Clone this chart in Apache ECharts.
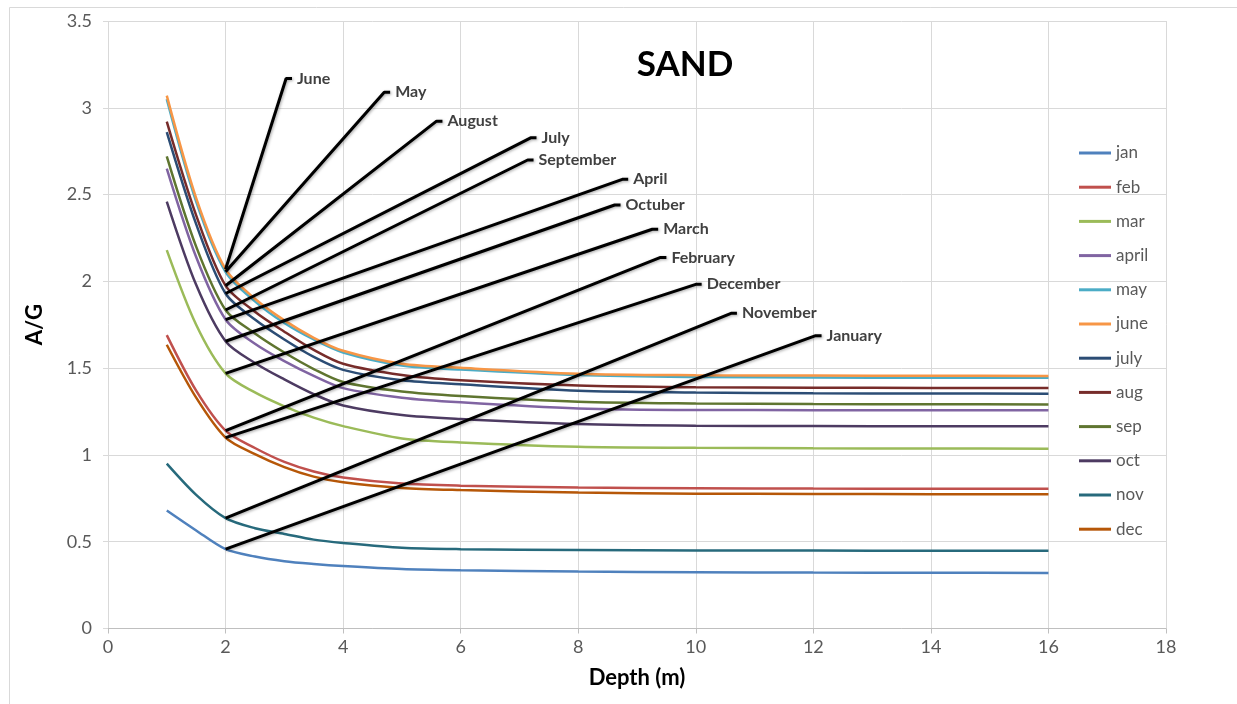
<!DOCTYPE html>
<html>
<head>
<meta charset="utf-8">
<script src="https://cdn.jsdelivr.net/npm/echarts@6/dist/echarts.min.js"></script>
<style>
  html, body { margin: 0; padding: 0; background: #ffffff; }
  #chart { width: 1237px; height: 704px; }
</style>
</head>
<body>
<div id="chart"></div>
<script>
// ---- data ----
const depth = [1, 1.5, 2, 2.5, 3, 3.5, 4, 5, 6, 8, 10, 12, 14, 16];

const jan   = [0.68, 0.565, 0.457, 0.415, 0.388, 0.372, 0.36, 0.343, 0.336, 0.328, 0.324, 0.322, 0.321, 0.32];
const feb   = [1.69, 1.37, 1.14, 1.04, 0.96, 0.905, 0.87, 0.835, 0.823, 0.812, 0.808, 0.806, 0.805, 0.805];
const mar   = [2.18, 1.75, 1.47, 1.36, 1.28, 1.215, 1.166, 1.095, 1.072, 1.047, 1.041, 1.038, 1.037, 1.036];
const april = [2.65, 2.14, 1.78, 1.64, 1.54, 1.455, 1.385, 1.33, 1.303, 1.268, 1.259, 1.258, 1.257, 1.257];
const may   = [3.05, 2.46, 2.055, 1.885, 1.76, 1.665, 1.59, 1.515, 1.492, 1.46, 1.449, 1.446, 1.445, 1.445];
const june  = [3.07, 2.48, 2.07, 1.90, 1.775, 1.675, 1.60, 1.525, 1.502, 1.468, 1.459, 1.457, 1.456, 1.455];
const july  = [2.86, 2.33, 1.93, 1.78, 1.665, 1.565, 1.49, 1.43, 1.407, 1.37, 1.36, 1.355, 1.354, 1.353];
const aug   = [2.92, 2.38, 1.975, 1.825, 1.71, 1.605, 1.525, 1.46, 1.43, 1.40, 1.39, 1.387, 1.386, 1.385];
const sep   = [2.72, 2.20, 1.835, 1.70, 1.59, 1.495, 1.42, 1.365, 1.339, 1.307, 1.297, 1.293, 1.292, 1.291];
const oct   = [2.46, 1.98, 1.655, 1.53, 1.435, 1.35, 1.285, 1.23, 1.207, 1.178, 1.168, 1.166, 1.165, 1.165];
const nov   = [0.95, 0.77, 0.636, 0.578, 0.545, 0.512, 0.493, 0.465, 0.457, 0.452, 0.45, 0.449, 0.448, 0.448];
const dec   = [1.635, 1.33, 1.10, 1.005, 0.93, 0.875, 0.842, 0.81, 0.798, 0.783, 0.777, 0.775, 0.774, 0.773];

const seriesNames = ['jan', 'feb', 'mar', 'april', 'may', 'june', 'july', 'aug', 'sep', 'oct', 'nov', 'dec'];
const seriesValues = [jan, feb, mar, april, may, june, july, aug, sep, oct, nov, dec];

// callout annotations (label text and elbow point in data units), one per series
const calloutText = ['January', 'February', 'March', 'April', 'May', 'June', 'July', 'August', 'September', 'Octuber', 'November', 'December'];
const calloutX = [12.04, 9.40, 9.26, 8.75, 4.70, 3.03, 7.19, 5.59, 7.14, 8.62, 10.60, 10.00];
const calloutY = [1.687, 2.138, 2.300, 2.588, 3.089, 3.169, 2.827, 2.923, 2.699, 2.440, 1.816, 1.983];
const calloutAnchorIndex = 2; // callouts point at depth = 2 m

const xTicks = { min: 0, max: 18, interval: 2 };
const yTicks = { min: 0, max: 3.5, interval: 0.5 };

// ---- styles ----
const colors = ['#4F81BD', '#C0504D', '#9BBB59', '#8064A2', '#4BACC6', '#F79646',
                '#2C4D75', '#772C2A', '#5F7530', '#4D3B62', '#276A7C', '#B65708'];
const FONT = 'Lato';
const tickLen = 0.1;

const series = [];
seriesNames.forEach((name, i) => {
  series.push({
    name: name,
    type: 'line',
    data: depth.map((d, k) => [d, seriesValues[i][k]]),
    smooth: 0.3,
    showSymbol: false,
    symbol: 'none',
    lineStyle: { width: 2.5, color: colors[i] },
    itemStyle: { color: colors[i] },
    z: 2,
    animation: false
  });
});
seriesNames.forEach((name, i) => {
  const ax = depth[calloutAnchorIndex];
  const ay = seriesValues[i][calloutAnchorIndex];
  series.push({
    name: calloutText[i],
    type: 'line',
    data: [[ax, ay], [calloutX[i], calloutY[i]], [calloutX[i] + tickLen, calloutY[i]]],
    showSymbol: false,
    symbol: 'none',
    lineStyle: { width: 3, color: '#000000', shadowBlur: 3, shadowColor: 'rgba(0,0,0,0.35)', shadowOffsetX: 1, shadowOffsetY: 1 },
    endLabel: {
      show: true,
      formatter: calloutText[i],
      color: '#404040',
      fontFamily: FONT,
      fontWeight: 'bold',
      fontSize: 16,
      distance: 5
    },
    z: 5,
    silent: true,
    animation: false
  });
});

const chart = echarts.init(document.getElementById('chart'), null, { renderer: 'canvas' });
chart.setOption({
  backgroundColor: '#ffffff',
  animation: false,
  color: colors,
  title: {
    text: 'SAND',
    left: 680,
    top: 42,
    textAlign: 'center',
    textStyle: { fontFamily: FONT, fontWeight: 'bold', fontSize: 35, color: '#000000' }
  },
  graphic: [
    { type: 'line', shape: { x1: 9.5, y1: 7.5, x2: 1237, y2: 7.5 }, style: { stroke: '#d9d9d9', lineWidth: 1 } },
    { type: 'line', shape: { x1: 9.5, y1: 7.5, x2: 9.5, y2: 704 }, style: { stroke: '#d9d9d9', lineWidth: 1 } }
  ],
  legend: {
    data: seriesNames,
    orient: 'vertical',
    left: 1074,
    top: 138,
    icon: 'rect',
    itemWidth: 32,
    itemHeight: 3,
    itemGap: 14.2,
    textStyle: { fontFamily: FONT, fontSize: 17, color: '#595959', lineHeight: 20 }
  },
  grid: { left: 108, right: 71, top: 21, bottom: 75.5 },
  xAxis: {
    type: 'value',
    min: xTicks.min, max: xTicks.max, interval: xTicks.interval,
    name: 'Depth (m)',
    nameLocation: 'middle',
    nameGap: 38,
    nameTextStyle: { fontFamily: FONT, fontWeight: 'bold', fontSize: 22, color: '#000000' },
    axisLine: { show: true, lineStyle: { color: '#bfbfbf', width: 1 } },
    axisTick: { show: true, length: 5, lineStyle: { color: '#bfbfbf' } },
    axisLabel: { fontFamily: FONT, fontSize: 18, color: '#595959', margin: 10 },
    splitLine: { show: true, lineStyle: { color: '#d9d9d9', width: 1 } }
  },
  yAxis: {
    type: 'value',
    min: yTicks.min, max: yTicks.max, interval: yTicks.interval,
    name: 'A/G',
    nameLocation: 'middle',
    nameGap: 62,
    nameRotate: 90,
    nameTextStyle: { fontFamily: FONT, fontWeight: 'bold', fontSize: 22, color: '#000000' },
    axisLine: { show: false },
    axisTick: { show: true, length: 5, lineStyle: { color: '#d9d9d9' } },
    axisLabel: { fontFamily: FONT, fontSize: 18, color: '#595959', margin: 16 },
    splitLine: { show: true, lineStyle: { color: '#d9d9d9', width: 1 } }
  },
  series: series
});
</script>
</body>
</html>
